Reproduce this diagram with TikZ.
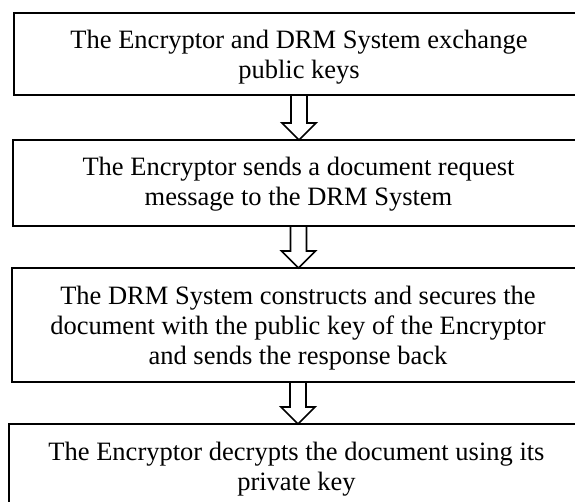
\documentclass[tikz,border=0pt]{standalone}
\usepackage{fontspec}
\setmainfont{Liberation Serif}
\usetikzlibrary{calc}
\tikzset{
  stepbox/.style={draw, line width=1.9pt, rectangle, inner sep=0pt, outer sep=0pt,
    anchor=north west, font=\fontsize{26.5pt}{30pt}\selectfont},
  barrow/.style={draw, line width=1.7pt, line join=miter},
}
\newcommand\boxtext[3]{\parbox[c][#1][t]{#2}{\centering\rule{0pt}{36pt}#3}}
\newcommand\blockarrow[2]{%
  \draw[barrow] let \p1=(#1.south), \p2=(#2.north) in
    (\x1-8pt,\y1) -- (\x1-8pt,\y2+17pt) -- (\x1-17pt,\y2+17pt) -- (\x1,\y2)
    -- (\x1+17pt,\y2+17pt) -- (\x1+8pt,\y2+17pt) -- (\x1+8pt,\y1);}
\begin{document}
\begin{tikzpicture}[x=1pt,y=-1pt]
\useasboundingbox (0,0) rectangle (575,502);
\clip (0,0) rectangle (575,502);
\fill[white] (0,0) rectangle (575,502);
\node[stepbox] (b1) at (14,13)
  {\boxtext{82pt}{570pt}{The Encryptor and DRM System exchange\\public keys}};
\node[stepbox] (b2) at (13,140)
  {\boxtext{86pt}{571pt}{The Encryptor sends a document request\\message to the DRM System}};
\node[stepbox] (b3) at (12,268)
  {\boxtext{114pt}{572pt}{The DRM System constructs and secures the\\document with the public key of the Encryptor\\and sends the response back}};
\node[stepbox] (b4) at (9,424)
  {\boxtext{84pt}{575pt}{The Encryptor decrypts the document using its\\private key}};
\blockarrow{b1}{b2}
\blockarrow{b2}{b3}
\blockarrow{b3}{b4}
\end{tikzpicture}
\end{document}
